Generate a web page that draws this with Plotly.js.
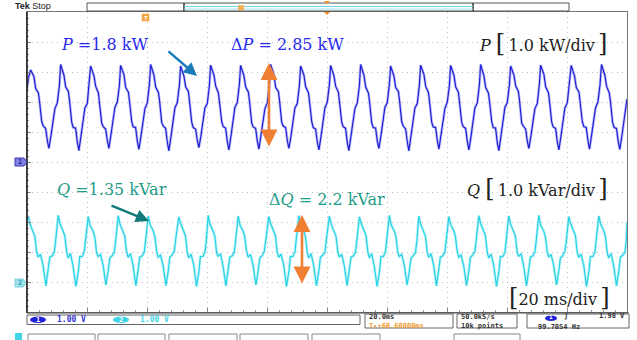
<!DOCTYPE html>
<html><head><meta charset="utf-8">
<script src="https://cdn.plot.ly/plotly-3.0.1.min.js"></script>
<style>html,body{margin:0;padding:0;background:#fff}#chart{width:637px;height:340px}</style>
</head><body><div id="chart"></div>
<script>
// ---- Channel 1: active power P (kW), time in ms ----
const timeP = [
 0, 0.6,
 1.2, 2.3, 2.9, 3.8, 4.2, 4.9, 5.4, 6.2, 6.8, 7.3, 7.9, 8.6, 9.3, 10.1, 10.8,
 11.2, 12.3, 12.9, 13.8, 14.2, 14.9, 15.4, 16.2, 16.8, 17.3, 17.9, 18.6, 19.3, 20.1, 20.8,
 21.2, 22.3, 22.9, 23.8, 24.2, 24.9, 25.4, 26.2, 26.8, 27.3, 27.9, 28.6, 29.3, 30.1, 30.8,
 31.2, 32.3, 32.9, 33.8, 34.2, 34.9, 35.4, 36.2, 36.8, 37.3, 37.9, 38.6, 39.3, 40.1, 40.8,
 41.2, 42.3, 42.9, 43.8, 44.2, 44.9, 45.4, 46.2, 46.8, 47.3, 47.9, 48.6, 49.3, 50.1, 50.8,
 51.2, 52.3, 52.9, 53.8, 54.2, 54.9, 55.4, 56.2, 56.8, 57.3, 57.9, 58.6, 59.3, 60.1, 60.8,
 61.2, 62.3, 62.9, 63.8, 64.2, 64.9, 65.4, 66.2, 66.8, 67.3, 67.9, 68.6, 69.3, 70.1, 70.8,
 71.2, 72.3, 72.9, 73.8, 74.2, 74.9, 75.4, 76.2, 76.8, 77.3, 77.9, 78.6, 79.3, 80.1, 80.8,
 81.2, 82.3, 82.9, 83.8, 84.2, 84.9, 85.4, 86.2, 86.8, 87.3, 87.9, 88.6, 89.3, 90.1, 90.8,
 91.2, 92.3, 92.9, 93.8, 94.2, 94.9, 95.4, 96.2, 96.8, 97.3, 97.9, 98.6, 99.3, 100.1, 100.8,
 101.2, 102.3, 102.9, 103.8, 104.2, 104.9, 105.4, 106.2, 106.8, 107.3, 107.9, 108.6, 109.3, 110.1, 110.8,
 111.2, 112.3, 112.9, 113.8, 114.2, 114.9, 115.4, 116.2, 116.8, 117.3, 117.9, 118.6, 119.3, 120.1, 120.8,
 121.2, 122.3, 122.9, 123.8, 124.2, 124.9, 125.4, 126.2, 126.8, 127.3, 127.9, 128.6, 129.3, 130.1, 130.8,
 131.2, 132.3, 132.9, 133.8, 134.2, 134.9, 135.4, 136.2, 136.8, 137.3, 137.9, 138.6, 139.3, 140.1, 140.8,
 141.2, 142.3, 142.9, 143.8, 144.2, 144.9, 145.4, 146.2, 146.8, 147.3, 147.9, 148.6, 149.3, 150.1, 150.8,
 151.2, 152.3, 152.9, 153.8, 154.2, 154.9, 155.4, 156.2, 156.8, 157.3, 157.9, 158.6, 159.3, 160.1, 160.8,
 161.2, 162.3, 162.9, 163.8, 164.2, 164.9, 165.4, 166.2, 166.8, 167.3, 167.9, 168.6, 169.3, 170.1, 170.8,
 171.2, 172.3, 172.9, 173.8, 174.2, 174.9, 175.4, 176.2, 176.8, 177.3, 177.9, 178.6, 179.3, 180.1, 180.8,
 181.4, 182.5, 183.1, 184.0, 184.4, 185.1, 185.6, 186.4, 187.0, 187.5, 188.1, 188.8, 189.5, 190.3, 191.0,
 191.5, 192.6, 193.2, 194.1, 194.5, 195.2, 195.7, 196.5, 197.1, 197.6, 198.2, 198.9, 199.6, 200.0
];
const powerP = [
 2.45, 2.85,
 3.07, 2.85, 2.45, 2.30, 2.00, 1.35, 1.20, 1.12, 0.70, 0.45, 0.82, 1.35, 1.78, 1.97, 2.55,
 3.25, 2.90, 2.50, 2.35, 2.02, 1.33, 1.15, 1.13, 0.65, 0.38, 0.80, 1.30, 1.80, 1.95, 2.60,
 3.20, 2.88, 2.52, 2.30, 1.98, 1.30, 1.18, 1.10, 0.70, 0.45, 0.85, 1.35, 1.82, 2.00, 2.55,
 3.22, 2.92, 2.48, 2.33, 2.00, 1.35, 1.17, 1.15, 0.68, 0.42, 0.80, 1.33, 1.78, 1.97, 2.58,
 3.25, 2.90, 2.50, 2.32, 2.03, 1.32, 1.20, 1.12, 0.65, 0.37, 0.78, 1.30, 1.80, 1.98, 2.57,
 3.20, 2.87, 2.50, 2.35, 2.00, 1.33, 1.15, 1.10, 0.70, 0.48, 0.82, 1.35, 1.80, 1.95, 2.55,
 3.23, 2.90, 2.53, 2.30, 1.97, 1.35, 1.18, 1.13, 0.67, 0.40, 0.80, 1.32, 1.82, 1.98, 2.60,
 3.22, 2.88, 2.50, 2.33, 2.00, 1.30, 1.17, 1.12, 0.68, 0.43, 0.83, 1.33, 1.78, 1.97, 2.57,
 3.25, 2.92, 2.48, 2.35, 2.02, 1.33, 1.20, 1.15, 0.70, 0.45, 0.80, 1.35, 1.80, 1.95, 2.55,
 3.20, 2.90, 2.50, 2.32, 2.00, 1.35, 1.15, 1.10, 0.65, 0.40, 0.78, 1.30, 1.80, 2.00, 2.58,
 3.22, 2.88, 2.52, 2.33, 1.98, 1.33, 1.18, 1.12, 0.62, 0.38, 0.80, 1.33, 1.78, 1.97, 2.55,
 3.25, 2.90, 2.50, 2.30, 2.00, 1.30, 1.15, 1.13, 0.68, 0.45, 0.82, 1.35, 1.82, 1.98, 2.60,
 3.20, 2.87, 2.48, 2.35, 2.02, 1.35, 1.20, 1.10, 0.65, 0.37, 0.80, 1.32, 1.80, 1.95, 2.57,
 3.23, 2.92, 2.52, 2.32, 2.00, 1.33, 1.17, 1.15, 0.70, 0.43, 0.83, 1.35, 1.78, 2.00, 2.55,
 3.22, 2.90, 2.50, 2.33, 1.97, 1.32, 1.18, 1.12, 0.67, 0.40, 0.78, 1.30, 1.80, 1.97, 2.58,
 3.25, 2.88, 2.48, 2.30, 2.00, 1.35, 1.15, 1.13, 0.62, 0.38, 0.80, 1.33, 1.82, 1.98, 2.57,
 3.20, 2.90, 2.53, 2.35, 2.02, 1.30, 1.20, 1.10, 0.68, 0.45, 0.82, 1.35, 1.78, 1.95, 2.60,
 3.23, 2.92, 2.50, 2.32, 2.00, 1.33, 1.17, 1.12, 0.65, 0.40, 0.80, 1.32, 1.80, 1.97, 2.55,
 3.22, 2.87, 2.48, 2.33, 1.98, 1.35, 1.18, 1.15, 0.70, 0.43, 0.83, 1.33, 1.80, 2.00, 2.57,
 3.25, 2.90, 2.52, 2.30, 2.00, 1.32, 1.15, 1.12, 0.67, 0.42, 0.80, 1.30, 1.80, 2.10
];
// ---- Channel 2: reactive power Q (kVar), time in ms ----
const timeQ = [
 0,
 0.4, 1.0, 2.1, 2.6, 3.2, 3.7, 4.5, 5.4, 6.3, 7.1, 7.6, 8.4, 9.1, 9.6,
 10.4, 11.0, 12.1, 12.6, 13.2, 13.7, 14.5, 15.4, 16.3, 17.1, 17.6, 18.4, 19.1, 19.6,
 20.4, 21.0, 22.1, 22.6, 23.2, 23.7, 24.5, 25.4, 26.3, 27.1, 27.6, 28.4, 29.1, 29.6,
 30.4, 31.0, 32.1, 32.6, 33.2, 33.7, 34.5, 35.4, 36.3, 37.1, 37.6, 38.4, 39.1, 39.6,
 40.4, 41.0, 42.1, 42.6, 43.2, 43.7, 44.5, 45.4, 46.3, 47.1, 47.6, 48.4, 49.1, 49.6,
 50.6, 51.2, 52.3, 52.8, 53.4, 53.9, 54.7, 55.6, 56.5, 57.3, 57.8, 58.6, 59.3, 59.8,
 60.4, 61.0, 62.1, 62.6, 63.2, 63.7, 64.5, 65.4, 66.3, 67.1, 67.6, 68.4, 69.1, 69.6,
 70.4, 71.0, 72.1, 72.6, 73.2, 73.7, 74.5, 75.4, 76.3, 77.1, 77.6, 78.4, 79.1, 79.6,
 80.6, 81.2, 82.3, 82.8, 83.4, 83.9, 84.7, 85.6, 86.5, 87.3, 87.8, 88.6, 89.3, 89.8,
 90.6, 91.2, 92.3, 92.8, 93.4, 93.9, 94.7, 95.6, 96.5, 97.3, 97.8, 98.6, 99.3, 99.8,
 100.8, 101.4, 102.5, 103.0, 103.6, 104.1, 104.9, 105.8, 106.7, 107.5, 108.0, 108.8, 109.5, 110.0,
 110.8, 111.4, 112.5, 113.0, 113.6, 114.1, 114.9, 115.8, 116.7, 117.5, 118.0, 118.8, 119.5, 120.0,
 120.8, 121.4, 122.5, 123.0, 123.6, 124.1, 124.9, 125.8, 126.7, 127.5, 128.0, 128.8, 129.5, 130.0,
 130.6, 131.2, 132.3, 132.8, 133.4, 133.9, 134.7, 135.6, 136.5, 137.3, 137.8, 138.6, 139.3, 139.8,
 140.6, 141.2, 142.3, 142.8, 143.4, 143.9, 144.7, 145.6, 146.5, 147.3, 147.8, 148.6, 149.3, 149.8,
 150.6, 151.2, 152.3, 152.8, 153.4, 153.9, 154.7, 155.6, 156.5, 157.3, 157.8, 158.6, 159.3, 159.8,
 160.6, 161.2, 162.3, 162.8, 163.4, 163.9, 164.7, 165.6, 166.5, 167.3, 167.8, 168.6, 169.3, 169.8,
 170.6, 171.2, 172.3, 172.8, 173.4, 173.9, 174.7, 175.6, 176.5, 177.3, 177.8, 178.6, 179.3, 179.8,
 180.6, 181.2, 182.3, 182.8, 183.4, 183.9, 184.7, 185.6, 186.5, 187.3, 187.8, 188.6, 189.3, 189.8,
 190.6, 191.2, 192.3, 192.8, 193.4, 193.9, 194.7, 195.6, 196.5, 197.3, 197.8, 198.6, 199.3, 199.8,
 200.0
];
const powerQ = [
 2.05,
 2.20, 1.93, 1.67, 1.53, 1.00, 0.83, 0.93, 0.53, -0.13, 0.37, 0.83, 0.87, 1.00, 1.43,
 2.22, 1.95, 1.65, 1.55, 1.02, 0.80, 0.95, 0.50, -0.15, 0.35, 0.85, 0.85, 1.02, 1.45,
 2.18, 1.90, 1.68, 1.50, 0.98, 0.85, 0.92, 0.55, -0.10, 0.40, 0.80, 0.88, 0.98, 1.40,
 2.21, 1.93, 1.67, 1.53, 1.00, 0.82, 0.95, 0.52, -0.13, 0.37, 0.83, 0.87, 1.00, 1.43,
 2.20, 1.92, 1.70, 1.52, 1.03, 0.83, 0.90, 0.53, -0.12, 0.38, 0.82, 0.90, 1.02, 1.45,
 2.17, 1.95, 1.65, 1.55, 1.00, 0.80, 0.93, 0.55, -0.15, 0.35, 0.85, 0.85, 0.98, 1.42,
 2.22, 1.93, 1.67, 1.53, 0.98, 0.85, 0.95, 0.50, -0.13, 0.37, 0.83, 0.87, 1.00, 1.43,
 2.20, 1.90, 1.68, 1.50, 1.02, 0.83, 0.92, 0.53, -0.10, 0.40, 0.80, 0.88, 1.02, 1.40,
 2.18, 1.95, 1.65, 1.55, 1.00, 0.82, 0.93, 0.55, -0.15, 0.35, 0.85, 0.85, 1.00, 1.45,
 2.21, 1.93, 1.70, 1.52, 0.98, 0.80, 0.95, 0.52, -0.13, 0.38, 0.82, 0.90, 0.98, 1.43,
 2.20, 1.92, 1.67, 1.53, 1.00, 0.83, 0.93, 0.53, -0.12, 0.37, 0.83, 0.87, 1.00, 1.43,
 2.17, 1.95, 1.65, 1.55, 1.02, 0.80, 0.95, 0.50, -0.15, 0.35, 0.85, 0.85, 1.02, 1.45,
 2.22, 1.90, 1.68, 1.50, 0.98, 0.85, 0.92, 0.55, -0.10, 0.40, 0.80, 0.88, 0.98, 1.40,
 2.20, 1.93, 1.67, 1.53, 1.00, 0.82, 0.95, 0.52, -0.13, 0.37, 0.83, 0.87, 1.00, 1.43,
 2.18, 1.92, 1.70, 1.52, 1.03, 0.83, 0.90, 0.53, -0.12, 0.38, 0.82, 0.90, 1.02, 1.45,
 2.21, 1.95, 1.65, 1.55, 1.00, 0.80, 0.93, 0.55, -0.15, 0.35, 0.85, 0.85, 0.98, 1.42,
 2.20, 1.93, 1.67, 1.53, 0.98, 0.85, 0.95, 0.50, -0.13, 0.37, 0.83, 0.87, 1.00, 1.43,
 2.22, 1.90, 1.68, 1.50, 1.02, 0.83, 0.92, 0.53, -0.10, 0.40, 0.80, 0.88, 1.02, 1.40,
 2.18, 1.95, 1.65, 1.55, 1.00, 0.82, 0.93, 0.55, -0.15, 0.35, 0.85, 0.85, 1.00, 1.45,
 2.20, 1.93, 1.70, 1.52, 0.98, 0.80, 0.95, 0.52, -0.13, 0.38, 0.82, 0.90, 0.98, 1.43,
 2.00
];
// text labels
const B = s => '<span style="font-size:24px">' + s + '</span>';
const labelP = '<i>P</i> =1.8 kW';
const labelDP = 'Δ<i>P</i> = 2.85 kW';
const labelPdiv = '<i>P</i> ' + B('[') + '\u20091.0 kW/div\u2009' + B(']');
const labelQ = '<i>Q</i> =1.35 kVar';
const labelDQ = 'Δ<i>Q</i> = 2.2 kVar';
const labelQdiv = '<i>Q</i> ' + B('[') + '\u20091.0 kVar/div\u2009' + B(']');
const labelT = B('[') + '20 ms/div\u2009' + B(']');

// ---- layout helpers (pixel -> paper) ----
const L = 27, T = 12, W = 600, H = 300;
const X = px => (px - L) / W;
const Y = py => (T + H - py) / H;

const serif = 'DejaVu Serif, Liberation Serif, serif';
const mono = 'DejaVu Sans Mono, Liberation Mono, monospace';

const traces = [
  {x: timeP, y: powerP, yaxis: 'y', mode: 'lines', line: {color: 'rgba(100,100,240,0.4)', width: 2.8}, hoverinfo: 'skip'},
  {x: timeP, y: powerP, yaxis: 'y', mode: 'lines', line: {color: '#2020d4', width: 1.2}},
  {x: timeQ, y: powerQ, yaxis: 'y2', mode: 'lines', line: {color: 'rgba(100,228,242,0.45)', width: 2.8}, hoverinfo: 'skip'},
  {x: timeQ, y: powerQ, yaxis: 'y2', mode: 'lines', line: {color: '#2ad2e4', width: 1.2}}
];

const ax = {
  showticklabels: false, zeroline: false, showgrid: true,
  gridcolor: '#bdbdbd', griddash: '1px,4px', gridwidth: 1,
  showline: true, linecolor: '#777', linewidth: 1, mirror: true,
  ticks: 'inside', ticklen: 4, tickcolor: '#888',
  minor: {ticks: 'inside', ticklen: 2, tickcolor: '#999', showgrid: false}
};

const shapes = [];
const annotations = [];
function rect(x0, y0, x1, y1, line, fill, w) {
  shapes.push({type: 'rect', xref: 'paper', yref: 'paper', x0: X(x0), x1: X(x1), y0: Y(y1), y1: Y(y0),
    line: {color: line, width: w === undefined ? 1 : w}, fillcolor: fill || 'rgba(0,0,0,0)', layer: 'above'});
}
function seg(x0, y0, x1, y1, color, w) {
  shapes.push({type: 'line', xref: 'paper', yref: 'paper', x0: X(x0), x1: X(x1), y0: Y(y0), y1: Y(y1),
    line: {color: color, width: w || 1}, layer: 'above'});
}
function txt(x, y, text, size, color, family, anchor, extra) {
  annotations.push(Object.assign({xref: 'paper', yref: 'paper', x: X(x), y: Y(y), text: text,
    showarrow: false, xanchor: anchor || 'left', yanchor: 'middle', borderpad: 0,
    font: {size: size, color: color, family: family}}, extra || {}));
}
function arrow(hx, hy, tx, ty, color, width, both, size) {
  annotations.push({xref: 'paper', yref: 'paper', x: X(hx), y: Y(hy), ax: tx - hx, ay: ty - hy,
    text: '', showarrow: true, arrowhead: 2, arrowsize: size || 1, arrowwidth: width, arrowcolor: color,
    arrowside: both ? 'end+start' : 'end', standoff: 0, startstandoff: 0});
}

// left border (dark)
seg(27, 12, 27, 313, '#222', 1.6);
seg(27, 313, 629, 313, '#444', 1.2);
// top record bar
txt(14, 6, '<b>Tek</b> Stop', 9, '#222', 'Liberation Sans, Arial, sans-serif');
rect(87, 3, 569, 11, '#555', '#fff', 1);
seg(184, 3, 184, 11, '#333', 1.5);
seg(473, 3, 473, 11, '#333', 1.5);
seg(184, 6.5, 473, 6.5, '#6fd6e6', 1.2);
seg(184, 9, 473, 9, '#9be3ee', 1);
rect(238.5, 5.5, 243.5, 10, '#f0a040', '#f6b04a', 0.5);
shapes.push({type: 'path', xref: 'paper', yref: 'paper', path:
  `M ${X(324)} ${Y(1)} L ${X(330)} ${Y(1)} L ${X(327)} ${Y(4)} Z`, fillcolor: '#f09020', line: {width: 0}});
shapes.push({type: 'path', xref: 'paper', yref: 'paper', path:
  `M ${X(324)} ${Y(12)} L ${X(330)} ${Y(12)} L ${X(327)} ${Y(15)} Z`, fillcolor: '#f09020', line: {width: 0}});
rect(142, 14, 149, 21, '#f09a30', '#f6a640', 0.5);
txt(145.5, 17.7, '<b>T</b>', 6, '#fff', 'Liberation Sans, sans-serif', 'center');

// channel markers
shapes.push({type: 'path', xref: 'paper', yref: 'paper', path:
  `M ${X(15)} ${Y(158)} L ${X(24)} ${Y(158)} L ${X(27)} ${Y(162)} L ${X(24)} ${Y(166)} L ${X(15)} ${Y(166)} Z`,
  fillcolor: '#8080e0', line: {color: '#3838b0', width: 1}});
txt(19.5, 162, '<b>1</b>', 7, '#2a2aa0', mono, 'center');
shapes.push({type: 'path', xref: 'paper', yref: 'paper', path:
  `M ${X(15)} ${Y(279)} L ${X(23)} ${Y(279)} L ${X(26)} ${Y(283)} L ${X(23)} ${Y(287)} L ${X(15)} ${Y(287)} Z`,
  fillcolor: '#9ee2ec', line: {color: '#7fd0dc', width: 1}});
txt(19.5, 283, '<b>2</b>', 7, '#3aa5b5', mono, 'center');

// bottom info boxes
rect(27, 315, 360, 324.5, '#666', '#fff', 1);
shapes.push({type: 'circle', xref: 'paper', yref: 'paper', x0: X(30), x1: X(46), y0: Y(323), y1: Y(316.5), fillcolor: '#2020d8', line: {width: 0}});
txt(38, 319.8, '<b>1</b>', 7, '#fff', mono, 'center');
txt(56, 319.8, '<b>1.00 V</b>', 8, '#3333d0', mono);
shapes.push({type: 'circle', xref: 'paper', yref: 'paper', x0: X(113), x1: X(129), y0: Y(323), y1: Y(316.5), fillcolor: '#40d4e4', line: {width: 0}});
txt(121, 319.8, '<b>2</b>', 7, '#fff', mono, 'center');
txt(139, 319.8, '<b>1.00 V</b>', 8, '#48d4e4', mono);

rect(365, 314, 453, 328, '#666', '#fff', 1);
txt(368, 321.3, '<b>20.0ms</b><br><b><span style="color:#f09a30">T▸▾60.60000ms</span></b>', 7, '#333', mono, 'left', {align: 'left'});
rect(457, 314, 517, 328, '#666', '#fff', 1);
txt(460, 321.3, '<b>50.0kS/s</b><br><b>10k points</b>', 7, '#333', mono, 'left', {align: 'left'});
rect(527, 314, 629, 328, '#666', '#fff', 1);
shapes.push({type: 'circle', xref: 'paper', yref: 'paper', x0: X(545), x1: X(557), y0: Y(321), y1: Y(315.5), fillcolor: '#2020d8', line: {width: 0}});
txt(551, 321, '<b>1</b>', 6, '#fff', mono, 'center', {yanchor: 'bottom'});
txt(566, 321, '<b>ʃ</b>', 7, '#333', mono, 'center', {yanchor: 'bottom'});
txt(626, 321, '<b>1.98 V</b>', 7, '#333', mono, 'right', {yanchor: 'bottom'});
txt(537, 321.5, '<b>99.7054 Hz</b>', 7, '#333', mono, 'left', {yanchor: 'top'});
// menu row (cut off at bottom)
[[28, 95], [98, 165], [169, 237], [240, 308], [312, 380], [454, 520]].forEach(b => rect(b[0], 334, b[1], 345, '#888', '#fff', 1));
rect(15, 333, 22, 340, '#40d4e4', '#40d4e4', 0);

// text labels
const blue = '#2a2aee', teal = '#1f9c8a', dark = '#222';
txt(60, 45, labelP, 16, blue, serif);
txt(230, 45, labelDP, 16, blue, serif);
txt(478, 43, labelPdiv, 16, dark, serif);
txt(56, 190, labelQ, 16, teal, serif);
txt(268, 199, labelDQ, 16, teal, serif);
txt(466, 188, labelQdiv, 16, dark, serif);
txt(508, 297, labelT, 16, dark, serif);

// arrows
arrow(197, 76, 167, 50, '#1b7ab8', 2.4, false, 1.1);
arrow(149, 221, 110, 205, '#0f7a78', 2.4, false, 1.1);
arrow(269, 63, 269, 148, '#ef7f33', 2.6, true, 1.3);
arrow(302, 215, 302, 285, '#ef7f33', 2.6, true, 1.3);

const layout = {
  width: 637, height: 340,
  margin: {l: L, r: 637 - L - W, t: T, b: 340 - T - H},
  paper_bgcolor: '#fff', plot_bgcolor: '#fff',
  showlegend: false,
  xaxis: Object.assign({}, ax, {range: [0, 200], dtick: 20, minor: Object.assign({}, ax.minor, {dtick: 4})}),
  yaxis: Object.assign({}, ax, {range: [-5, 5], dtick: 1, minor: Object.assign({}, ax.minor, {dtick: 0.2})}),
  yaxis2: {overlaying: 'y', range: [-1, 9], visible: false, showgrid: false, zeroline: false},
  shapes: shapes, annotations: annotations
};
Plotly.newPlot('chart', traces, layout, {staticPlot: true, displayModeBar: false});
</script></body></html>
